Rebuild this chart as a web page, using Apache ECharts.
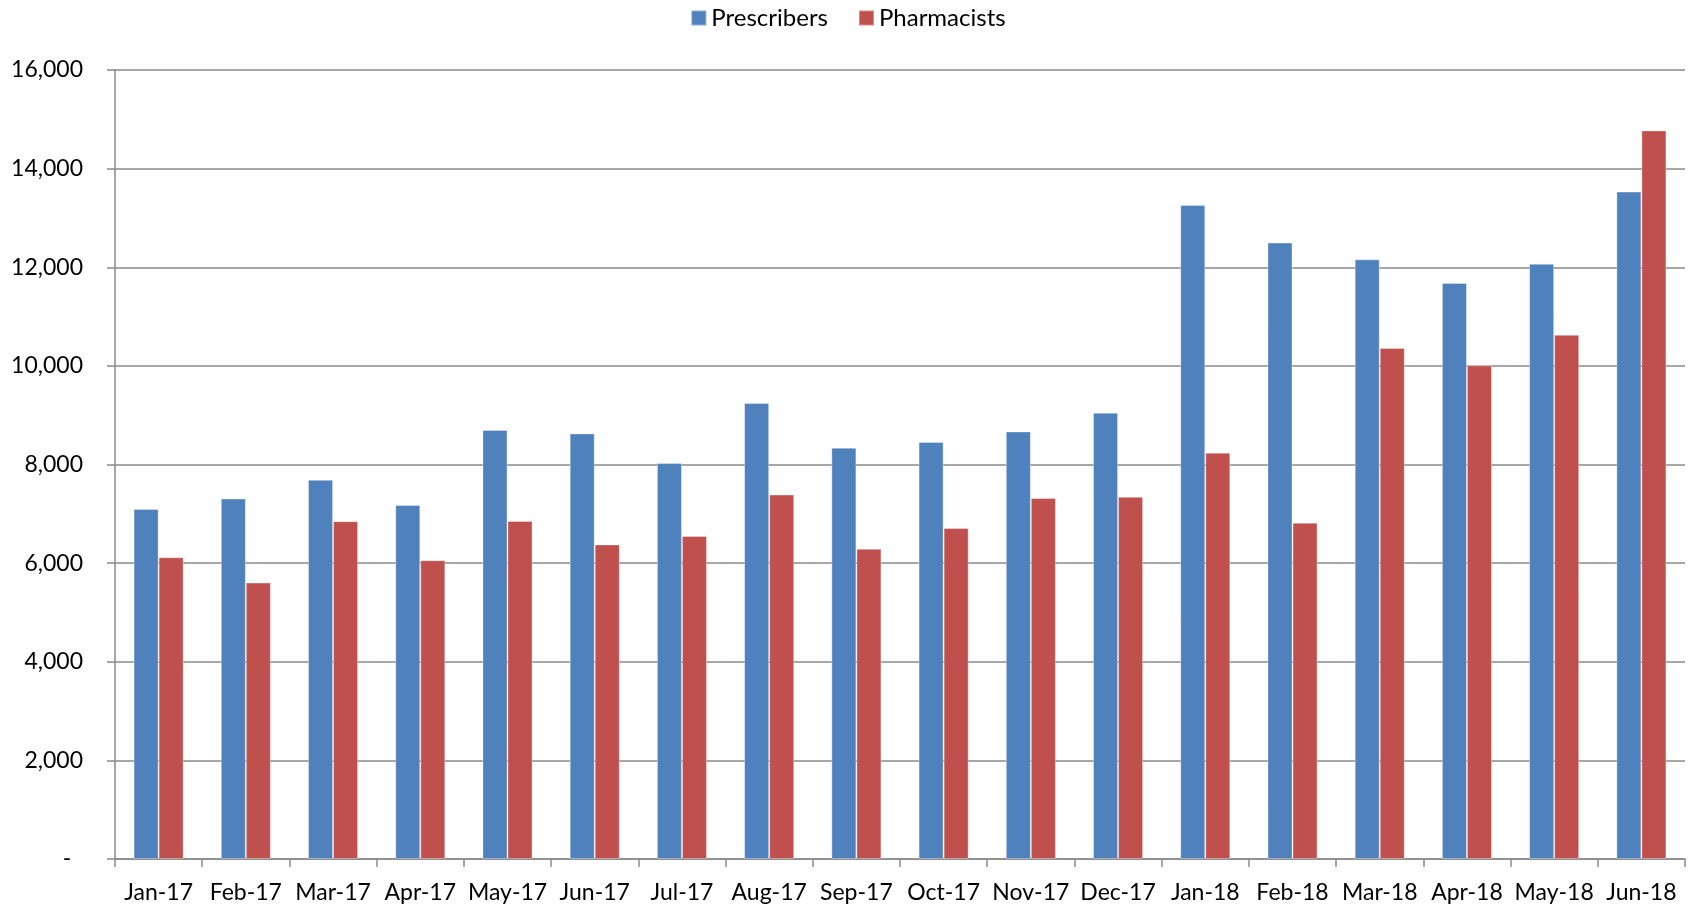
<!DOCTYPE html>
<html>
<head>
<meta charset="utf-8">
<title>Prescribers vs Pharmacists</title>
<script src="https://cdn.jsdelivr.net/npm/echarts@6/dist/echarts.min.js"></script>
<style>
    html, body { margin: 0; padding: 0; background: #fff; }
    #chart { width: 1696px; height: 910px; }
</style>
</head>
<body>
<div id="chart"></div>
<script>
// data
const months = [
    'Jan-17', 'Feb-17', 'Mar-17', 'Apr-17', 'May-17', 'Jun-17',
    'Jul-17', 'Aug-17', 'Sep-17', 'Oct-17', 'Nov-17', 'Dec-17',
    'Jan-18', 'Feb-18', 'Mar-18', 'Apr-18', 'May-18', 'Jun-18'
];
const prescribers = [
    7100, 7310, 7690, 7180, 8700, 8630,
    8030, 9245, 8340, 8455, 8670, 9050,
    13260, 12500, 12160, 11680, 12070, 13535
];
const pharmacists = [
    6120, 5605, 6850, 6060, 6855, 6380,
    6550, 7390, 6290, 6710, 7320, 7345,
    8240, 6820, 10365, 10010, 10630, 14775
];
const yMin = 0;
const yMax = 16000;
const yStep = 2000;

const font = 'Lato, "Open Sans", sans-serif';
const gridGray = '#8a8a8a';

let chart = echarts.init(document.getElementById('chart'));
let option = {
    backgroundColor: '#fff',
    animation: false,
    textStyle: { fontFamily: font },
    legend: {
        top: 1,
        left: 'center',
        itemWidth: 15,
        itemHeight: 15,
        itemGap: 30,
        icon: 'rect',
        textStyle: { fontSize: 24, color: '#000', fontFamily: font }
    },
    grid: {
        left: 115,
        right: 11,
        top: 70,
        bottom: 51,
        containLabel: false
    },
    xAxis: {
        type: 'category',
        data: months,
        axisLine: { lineStyle: { color: gridGray, width: 1.5 } },
        axisTick: { show: true, length: 8, inside: false, lineStyle: { color: gridGray, width: 1.5 } },
        axisLabel: { color: '#000', fontSize: 23, margin: 22, fontFamily: font, interval: 0 },
        splitLine: { show: false }
    },
    yAxis: {
        type: 'value',
        min: yMin,
        max: yMax,
        interval: yStep,
        axisLine: { show: true, lineStyle: { color: gridGray, width: 1.5 } },
        axisTick: { show: true, length: 8, lineStyle: { color: gridGray, width: 1.5 } },
        axisLabel: {
            color: '#000',
            fontSize: 23,
            margin: 32,
            fontFamily: font,
            formatter: function (v) {
                return v === 0 ? '-  ' : v.toLocaleString('en-US');
            }
        },
        splitLine: { show: true, lineStyle: { color: gridGray, width: 1.5 } }
    },
    series: [
        {
            name: 'Prescribers',
            type: 'bar',
            data: prescribers,
            barGap: '0%',
            barCategoryGap: '42.6%',
            itemStyle: { color: '#4F81BD', borderColor: 'rgba(255,255,255,0.35)', borderWidth: 1 }
        },
        {
            name: 'Pharmacists',
            type: 'bar',
            data: pharmacists,
            barGap: '0%',
            barCategoryGap: '42.6%',
            itemStyle: { color: '#C0504D', borderColor: 'rgba(255,255,255,0.35)', borderWidth: 1 }
        }
    ]
};
chart.setOption(option);
</script>
</body>
</html>
